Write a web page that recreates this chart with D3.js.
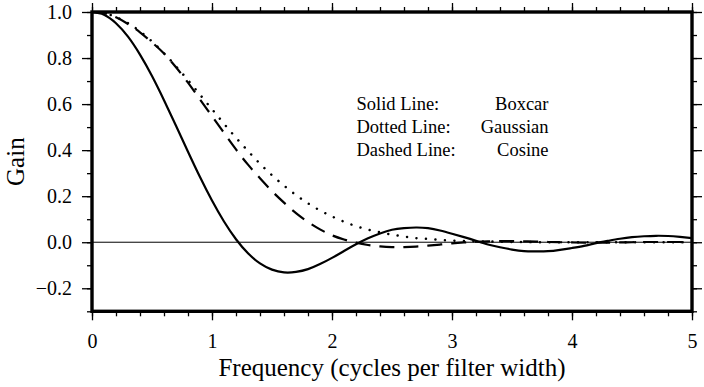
<!DOCTYPE html>
<html>
<head>
<meta charset="utf-8">
<script src="https://d3js.org/d3.v7.min.js"></script>
<style>
  html, body { margin: 0; padding: 0; background: #fff; }
  svg text { font-family: "Liberation Serif", "Times New Roman", serif; fill: #000; }
</style>
</head>
<body>
<div id="custom-container"></div>
<script>
/* Access data */
var freq = [0.0,0.1,0.2,0.3,0.4,0.5,0.6,0.7,0.8,0.9,
  1.0,1.1,1.2,1.3,1.4,1.5,1.6,1.7,1.8,1.9,
  2.0,2.1,2.2,2.3,2.4,2.5,2.6,2.7,2.8,2.9,
  3.0,3.1,3.2,3.3,3.4,3.5,3.6,3.7,3.8,3.9,
  4.0,4.1,4.2,4.3,4.4,4.5,4.6,4.7,4.8,4.9,5.0];

var boxcar = [1.000,0.988,0.951,0.893,0.815,0.722,0.617,0.506,0.393,0.283,
  0.181,0.090,0.013,-0.048,-0.092,-0.119,-0.131,-0.129,-0.117,-0.095,
  -0.068,-0.038,-0.009,0.017,0.038,0.054,0.061,0.064,0.061,0.051,
  0.037,0.022,0.006,-0.010,-0.022,-0.032,-0.039,-0.040,-0.039,-0.033,
  -0.025,-0.016,-0.004,0.006,0.015,0.022,0.026,0.028,0.027,0.023,0.018];

var gaussian = [1.000,0.995,0.978,0.952,0.916,0.872,0.821,0.764,0.704,0.641,
  0.578,0.515,0.454,0.396,0.341,0.291,0.246,0.205,0.169,0.138,
  0.112,0.089,0.070,0.055,0.043,0.033,0.025,0.018,0.014,0.010,
  0.007,0.005,0.004,0.003,0.002,0.001,0.001,0.000,0.000,0.000,
  0.000,0.000,0.000,0.000,0.000,0.000,0.000,0.000,0.000,0.000,0.000];

var cosine = [1.000,0.994,0.977,0.948,0.912,0.868,0.820,0.760,0.693,0.620,
  0.548,0.475,0.403,0.337,0.278,0.222,0.172,0.126,0.088,0.056,
  0.030,0.012,-0.002,-0.012,-0.018,-0.021,-0.021,-0.019,-0.015,-0.010,
  -0.005,-0.001,0.002,0.004,0.005,0.005,0.004,0.003,0.001,0.000,
  -0.001,-0.002,-0.002,-0.002,-0.001,0.000,0.001,0.001,0.001,0.001,0.000];

var xTicks = [0, 1, 2, 3, 4, 5];
var yTicks = [-0.2, 0.0, 0.2, 0.4, 0.6, 0.8, 1.0];
var legendLeft = ["Solid Line:", "Dotted Line:", "Dashed Line:"];
var legendRight = ["Boxcar", "Gaussian", "Cosine"];
var xTitle = "Frequency (cycles per filter width)";
var yTitle = "Gain";

var xAccessor = function (d) { return d.x; };
var yAccessor = function (d) { return d.y; };
var toPoints = function (ys) { return freq.map(function (f, i) { return { x: f, y: ys[i] }; }); };

// 1. Chart dimensions
var dimensions = {
  width: 704,
  height: 387,
  margin: { top: 12, right: 12, bottom: 75.7, left: 92 }
};
dimensions.boundedWidth = dimensions.width - dimensions.margin.left - dimensions.margin.right;
dimensions.boundedHeight = dimensions.height - dimensions.margin.top - dimensions.margin.bottom;

// 2. Draw canvas
var wrapper = d3.select("#custom-container")
  .append("svg")
  .attr("width", dimensions.width)
  .attr("height", dimensions.height);
var bounds = wrapper.append("g")
  .attr("transform", "translate(" + dimensions.margin.left + "," + dimensions.margin.top + ")");

// 3. Scales
var xScale = d3.scaleLinear().domain([0, 5]).range([0, dimensions.boundedWidth]);
var yScale = d3.scaleLinear().domain([-0.3, 1.0]).range([dimensions.boundedHeight, 0]);

// 4. Zero line
bounds.append("line")
  .attr("x1", xScale(0)).attr("x2", xScale(5))
  .attr("y1", yScale(0)).attr("y2", yScale(0))
  .attr("stroke", "#000").attr("stroke-width", 1);

// 5. Curves
var lineGenerator = d3.line()
  .x(function (d) { return xScale(xAccessor(d)); })
  .y(function (d) { return yScale(yAccessor(d)); })
  .curve(d3.curveNatural);

var clip = wrapper.append("defs").append("clipPath").attr("id", "plot-clip")
  .append("rect").attr("width", dimensions.boundedWidth).attr("height", dimensions.boundedHeight);
var curves = bounds.append("g").attr("clip-path", "url(#plot-clip)");

curves.append("path")
  .attr("d", lineGenerator(toPoints(gaussian)))
  .attr("fill", "none").attr("stroke", "#000")
  .attr("stroke-width", 2.5)
  .attr("stroke-linecap", "round")
  .attr("stroke-dasharray", "0.01 9.5");

curves.append("path")
  .attr("d", lineGenerator(toPoints(cosine)))
  .attr("fill", "none").attr("stroke", "#000")
  .attr("stroke-width", 2.2)
  .attr("stroke-dasharray", "15 9");

curves.append("path")
  .attr("d", lineGenerator(toPoints(boxcar)))
  .attr("fill", "none").attr("stroke", "#000")
  .attr("stroke-width", 2.2);

// 6. Axes (major and minor ticks on all four sides)
function styleAxis(g) {
  g.select(".domain").remove();
  g.selectAll(".tick line").attr("stroke", "#000").attr("stroke-width", 1.3);
}
var xMinor = d3.range(0, 5.001, 0.2);
var yMinor = d3.range(-0.3, 1.0001, 0.1);

var xBottom = bounds.append("g").attr("transform", "translate(0," + dimensions.boundedHeight + ")")
  .call(d3.axisBottom(xScale).tickValues(xTicks).tickSize(9).tickPadding(14).tickFormat(d3.format("d")));
xBottom.call(styleAxis);
xBottom.selectAll("text").attr("font-size", 20);
bounds.append("g").attr("transform", "translate(0," + dimensions.boundedHeight + ")")
  .call(d3.axisBottom(xScale).tickValues(xMinor).tickSize(5).tickFormat(""))
  .call(styleAxis);
bounds.append("g")
  .call(d3.axisTop(xScale).tickValues(xTicks).tickSize(9).tickFormat(""))
  .call(styleAxis);
bounds.append("g")
  .call(d3.axisTop(xScale).tickValues(xMinor).tickSize(5).tickFormat(""))
  .call(styleAxis);

var yLeft = bounds.append("g")
  .call(d3.axisLeft(yScale).tickValues(yTicks).tickSize(10).tickPadding(10)
    .tickFormat(function (d) { return (d < 0 ? "\u2212" : "") + Math.abs(d).toFixed(1); }));
yLeft.call(styleAxis);
yLeft.selectAll("text").attr("font-size", 20);
bounds.append("g")
  .call(d3.axisLeft(yScale).tickValues(yMinor).tickSize(5).tickFormat(""))
  .call(styleAxis);
bounds.append("g").attr("transform", "translate(" + dimensions.boundedWidth + ",0)")
  .call(d3.axisRight(yScale).tickValues(yTicks).tickSize(10).tickFormat(""))
  .call(styleAxis);
bounds.append("g").attr("transform", "translate(" + dimensions.boundedWidth + ",0)")
  .call(d3.axisRight(yScale).tickValues(yMinor).tickSize(5).tickFormat(""))
  .call(styleAxis);

// 7. Frame
bounds.append("rect")
  .attr("width", dimensions.boundedWidth)
  .attr("height", dimensions.boundedHeight)
  .attr("fill", "none").attr("stroke", "#000").attr("stroke-width", 3.4);

// 8. Titles
bounds.append("text")
  .attr("x", dimensions.boundedWidth / 2)
  .attr("y", dimensions.boundedHeight + 65)
  .attr("text-anchor", "middle")
  .attr("font-size", 25)
  .text(xTitle);
wrapper.append("text")
  .attr("transform", "translate(24," + (dimensions.margin.top + dimensions.boundedHeight / 2) + ") rotate(-90)")
  .attr("text-anchor", "middle")
  .attr("font-size", 25)
  .text(yTitle);

// 9. Legend text
var legend = wrapper.append("g").attr("font-size", 18.5);
legend.selectAll("text.left").data(legendLeft).join("text")
  .attr("class", "left")
  .attr("x", 356.5)
  .attr("y", function (d, i) { return 110 + i * 23; })
  .text(function (d) { return d; });
legend.selectAll("text.right").data(legendRight).join("text")
  .attr("class", "right")
  .attr("x", 548.5)
  .attr("y", function (d, i) { return 110 + i * 23; })
  .attr("text-anchor", "end")
  .text(function (d) { return d; });
</script>
</body>
</html>
